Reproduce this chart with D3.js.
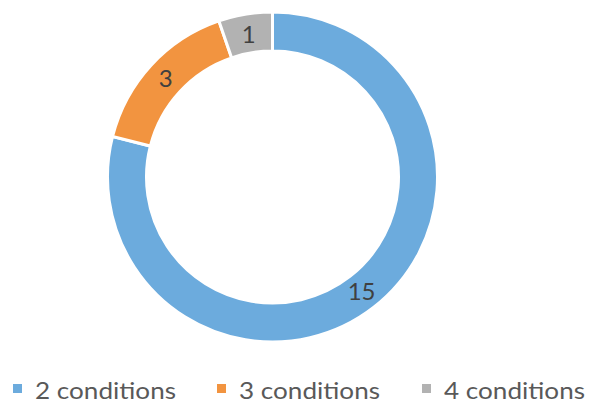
<!DOCTYPE html>
<html><head><meta charset="utf-8">
<script src="https://cdn.jsdelivr.net/npm/d3@7"></script>
<style>body{margin:0;background:#fff}svg{display:block}</style>
</head><body>
<svg id="c" width="592" height="403"></svg>
<script>
const categories = ["2 conditions", "3 conditions", "4 conditions"];
const values = [15, 3, 1];
const colors = ["#6cabdd", "#f29440", "#b2b2b2"];

const svg = d3.select("#c");
const cx = 272.5, cy = 177, rOut = 165, rIn = 126;
const pie = d3.pie().sort(null).value(d => d)(values);
const arc = d3.arc().innerRadius(rIn).outerRadius(rOut);
const labelArc = d3.arc().innerRadius(145).outerRadius(145);
const g = svg.append("g").attr("transform", `translate(${cx},${cy})`);
g.selectAll("path").data(pie).join("path")
  .attr("d", arc).attr("fill", (d, i) => colors[i])
  .attr("stroke", "#fff").attr("stroke-width", 3);
g.selectAll("text").data(pie).join("text")
  .attr("transform", d => `translate(${labelArc.centroid(d)})`)
  .attr("text-anchor", "middle").attr("dy", "0.36em")
  .attr("font-family", "Lato, sans-serif").attr("font-size", 24)
  .attr("fill", "#404040").text(d => d.data);

const legendX = [13, 217, 422];
const lg = svg.append("g");
categories.forEach((c, i) => {
  lg.append("rect").attr("x", legendX[i]).attr("y", 384).attr("width", 9).attr("height", 9).attr("fill", colors[i]);
  lg.append("text").attr("x", legendX[i] + 22).attr("y", 398.5)
    .attr("font-family", "Lato, sans-serif").attr("font-size", 24)
    .attr("textLength", 141).attr("lengthAdjust", "spacingAndGlyphs")
    .attr("fill", "#595959").text(c);
});
</script>
</body></html>
